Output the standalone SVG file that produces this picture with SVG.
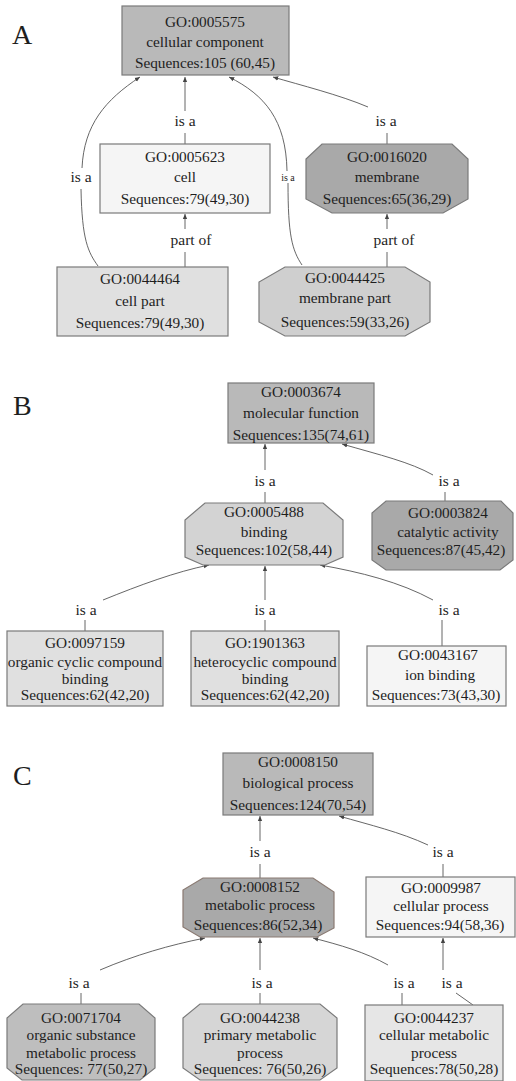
<svg xmlns="http://www.w3.org/2000/svg" width="516" height="1081" viewBox="0 0 516 1081">
<style>
text{font-family:"Liberation Serif","Times New Roman",serif;fill:#1e1e1e;}
.t{font-size:15.3px;text-anchor:middle;}
.l{font-size:15.5px;text-anchor:middle;}
.s{font-size:10px;text-anchor:middle;}
.p{font-size:28px;}
.n{stroke:#7a7a7a;stroke-width:1.2;}
.c0{fill:#b9b9b9;}
.c1{fill:#a9a9a9;}
.c2{fill:#d3d3d3;}
.c3{fill:#e0e0e0;}
.c4{fill:#f5f5f5;}
.e{fill:none;stroke:#555;stroke-width:0.9;}
.a{marker-end:url(#ar);}
</style>
<defs>
<marker id="ar" viewBox="0 0 8 8" refX="7" refY="4" markerWidth="6" markerHeight="6" orient="auto" markerUnits="userSpaceOnUse">
<path d="M0,1 L7,4 L0,7 z" fill="#444"/>
</marker>
</defs>
<rect width="516" height="1081" fill="#ffffff"/>
<text class="p" x="12" y="44">A</text>
<text class="p" x="13" y="415">B</text>
<text class="p" x="13" y="785">C</text>

<g id="connectors">
<!-- A -->
<line class="e" x1="185" y1="144" x2="185" y2="133"/>
<line class="e a" x1="185" y1="111" x2="185" y2="77"/>
<text class="l" x="185" y="126">is a</text>
<line class="e" x1="387" y1="144" x2="387" y2="133"/>
<path class="e a" d="M368,107 C340,95 300,85 273,77"/>
<text class="l" x="386" y="126">is a</text>
<path class="e" d="M98,266 C88,252 82,240 81,189"/>
<path class="e a" d="M82,168 C84,125 105,100 140,77"/>
<text class="l" x="81" y="182">is a</text>
<path class="e" d="M302,265 C292,250 288,235 288,183"/>
<path class="e a" d="M287,171 C286,120 265,95 229,77"/>
<text class="s" x="288" y="181">is a</text>
<line class="e" x1="185" y1="267" x2="185" y2="252"/>
<line class="e a" x1="185" y1="229" x2="185" y2="214"/>
<text class="l" x="191" y="245">part of</text>
<line class="e" x1="387" y1="267" x2="387" y2="252"/>
<line class="e a" x1="387" y1="229" x2="387" y2="214"/>
<text class="l" x="394" y="245">part of</text>
<!-- B -->
<line class="e" x1="265" y1="503" x2="265" y2="492"/>
<line class="e a" x1="265" y1="470" x2="265" y2="444"/>
<text class="l" x="265" y="486">is a</text>
<line class="e" x1="445" y1="501" x2="445" y2="492"/>
<path class="e a" d="M433,475 C410,462 380,455 342,444"/>
<text class="l" x="449" y="486">is a</text>
<line class="e" x1="85" y1="631" x2="85" y2="620"/>
<path class="e a" d="M103,600 C140,585 175,572 209,565"/>
<text class="l" x="86" y="615">is a</text>
<line class="e" x1="265" y1="631" x2="265" y2="620"/>
<line class="e a" x1="265" y1="600" x2="265" y2="566"/>
<text class="l" x="265" y="615">is a</text>
<line class="e" x1="442" y1="646" x2="442" y2="620"/>
<path class="e a" d="M433,600 C400,582 360,572 320,565"/>
<text class="l" x="449" y="615">is a</text>
<!-- C -->
<line class="e" x1="260" y1="878" x2="260" y2="864"/>
<line class="e a" x1="260" y1="841" x2="260" y2="816"/>
<text class="l" x="260" y="857">is a</text>
<line class="e" x1="443" y1="877" x2="443" y2="864"/>
<path class="e a" d="M428,845 C400,832 370,825 339,816"/>
<text class="l" x="443" y="857">is a</text>
<line class="e" x1="81" y1="1004" x2="81" y2="993"/>
<path class="e a" d="M100,970 C135,955 170,945 205,938"/>
<text class="l" x="79" y="988">is a</text>
<line class="e" x1="260" y1="1004" x2="260" y2="993"/>
<line class="e a" x1="260" y1="970" x2="260" y2="938"/>
<text class="l" x="262" y="988">is a</text>
<line class="e" x1="402" y1="1005" x2="402" y2="993"/>
<path class="e a" d="M388,965 C365,952 340,945 313,938"/>
<text class="l" x="404" y="988">is a</text>
<path class="e" d="M473,1005 L456,993"/>
<line class="e a" x1="443" y1="970" x2="443" y2="938"/>
<text class="l" x="452" y="988">is a</text>
</g>

<!-- Panel A nodes -->
<g id="GO0005575">
<rect class="n c0" x="122" y="6" width="167" height="69"/>
<text class="t" x="205" y="27">GO:0005575</text>
<text class="t" x="205" y="47">cellular component</text>
<text class="t" x="205" y="68">Sequences:105 (60,45)</text>
</g>
<g id="GO0005623">
<rect class="n c4" x="100" y="144" width="170" height="69"/>
<text class="t" x="185" y="162">GO:0005623</text>
<text class="t" x="185" y="182">cell</text>
<text class="t" x="185" y="204">Sequences:79(49,30)</text>
</g>
<g id="GO0016020">
<polygon class="n c1" points="322,144 452,144 468,159 468,199 443,213 332,213 306,199 306,159"/>
<text class="t" x="387" y="162">GO:0016020</text>
<text class="t" x="387" y="182">membrane</text>
<text class="t" x="387" y="204">Sequences:65(36,29)</text>
</g>
<g id="GO0044464">
<rect class="n c3" x="57" y="267" width="171" height="69"/>
<text class="t" x="140" y="284">GO:0044464</text>
<text class="t" x="140" y="306">cell part</text>
<text class="t" x="140" y="328">Sequences:79(49,30)</text>
</g>
<g id="GO0044425">
<polygon class="n c2" points="285,267 405,267 430,282 430,322 405,336 285,336 259,322 259,282" style="fill:#cfcfcf"/>
<text class="t" x="345" y="283">GO:0044425</text>
<text class="t" x="345" y="303">membrane part</text>
<text class="t" x="345" y="327">Sequences:59(33,26)</text>
</g>

<!-- Panel B nodes -->
<g id="GO0003674">
<rect class="n c0" x="228" y="383" width="146" height="60"/>
<text class="t" x="301" y="397">GO:0003674</text>
<text class="t" x="301" y="418">molecular function</text>
<text class="t" x="301" y="440">Sequences:135(74,61)</text>
</g>
<g id="GO0005488">
<polygon class="n c2" points="205,503 323,503 343,520 343,557 325,565 203,565 185,557 185,520"/>
<text class="t" x="264" y="517">GO:0005488</text>
<text class="t" x="264" y="537">binding</text>
<text class="t" x="264" y="555">Sequences:102(58,44)</text>
</g>
<g id="GO0003824">
<polygon class="n c1" points="386,501 501,501 513,513 513,560 500,570 386,570 372,560 372,513"/>
<text class="t" x="448" y="518">GO:0003824</text>
<text class="t" x="448" y="537">catalytic activity</text>
<text class="t" x="441" y="555">Sequences:87(45,42)</text>
</g>
<g id="GO0097159">
<rect class="n c3" x="7" y="631" width="156" height="75"/>
<text class="t" x="85" y="648">GO:0097159</text>
<text class="t" x="85" y="667">organic cyclic compound</text>
<text class="t" x="85" y="684">binding</text>
<text class="t" x="85" y="700">Sequences:62(42,20)</text>
</g>
<g id="GO1901363">
<rect class="n c3" x="191" y="631" width="148" height="75"/>
<text class="t" x="265" y="648">GO:1901363</text>
<text class="t" x="265" y="667">heterocyclic compound</text>
<text class="t" x="265" y="684">binding</text>
<text class="t" x="265" y="700">Sequences:62(42,20)</text>
</g>
<g id="GO0043167">
<rect class="n c4" x="367" y="646" width="139" height="60"/>
<text class="t" x="438" y="660">GO:0043167</text>
<text class="t" x="440" y="680">ion binding</text>
<text class="t" x="436" y="700">Sequences:73(43,30)</text>
</g>

<!-- Panel C nodes -->
<g id="GO0008150">
<rect class="n c0" x="223" y="753" width="150" height="62"/>
<text class="t" x="298" y="767">GO:0008150</text>
<text class="t" x="298" y="788">biological process</text>
<text class="t" x="298" y="810">Sequences:124(70,54)</text>
</g>
<g id="GO0008152">
<polygon class="n c1" points="203,878 313,878 334,892 334,928 317,937 200,937 183,927 183,890" style="stroke:#8a7a72"/>
<text class="t" x="260" y="892">GO:0008152</text>
<text class="t" x="260" y="910">metabolic process</text>
<text class="t" x="258" y="930">Sequences:86(52,34)</text>
</g>
<g id="GO0009987">
<rect class="n c4" x="366" y="877" width="149" height="60"/>
<text class="t" x="441" y="893">GO:0009987</text>
<text class="t" x="441" y="911">cellular process</text>
<text class="t" x="440" y="930">Sequences:94(58,36)</text>
</g>
<g id="GO0071704">
<polygon class="n" points="23,1004 139,1004 155,1018 155,1068 140,1080 22,1080 7,1068 7,1018" style="fill:#bebebe"/>
<text class="t" x="81" y="1023">GO:0071704</text>
<text class="t" x="81" y="1040">organic substance</text>
<text class="t" x="81" y="1058">metabolic process</text>
<text class="t" x="81" y="1074">Sequences: 77(50,27)</text>
</g>
<g id="GO0044238">
<polygon class="n" points="200,1004 320,1004 337,1018 337,1068 320,1080 200,1080 183,1068 183,1018" style="fill:#d6d6d6"/>
<text class="t" x="260" y="1023">GO:0044238</text>
<text class="t" x="260" y="1040">primary metabolic</text>
<text class="t" x="260" y="1058">process</text>
<text class="t" x="260" y="1074">Sequences: 76(50,26)</text>
</g>
<g id="GO0044237">
<rect class="n" x="365" y="1005" width="138" height="76" style="fill:#e6e6e6"/>
<text class="t" x="434" y="1023">GO:0044237</text>
<text class="t" x="434" y="1040">cellular metabolic</text>
<text class="t" x="434" y="1058">process</text>
<text class="t" x="434" y="1074">Sequences:78(50,28)</text>
</g>
</svg>
